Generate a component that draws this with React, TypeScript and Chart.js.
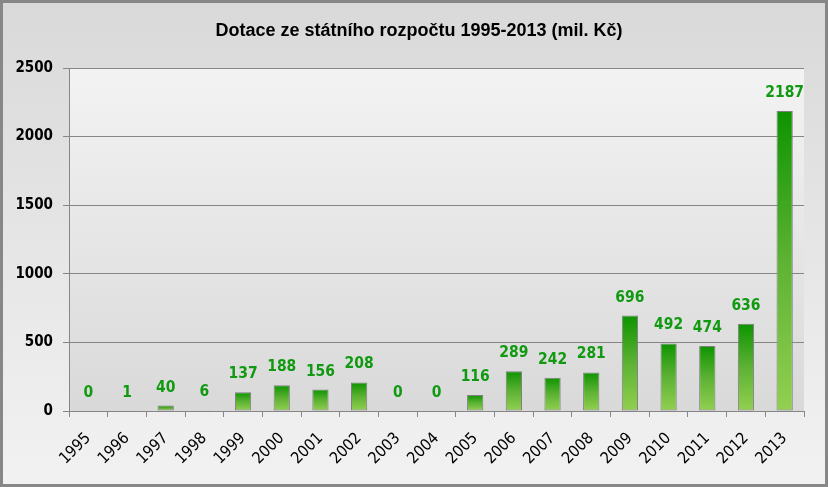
import React, { useEffect, useRef } from "react";
import { Chart, registerables } from "chart.js";

Chart.register(...registerables);

const TITLE = "Dotace ze státního rozpočtu 1995-2013 (mil. Kč)";
const categories = ["1995","1996","1997","1998","1999","2000","2001","2002","2003","2004","2005","2006","2007","2008","2009","2010","2011","2012","2013"];
const values = [0, 1, 40, 6, 137, 188, 156, 208, 0, 0, 116, 289, 242, 281, 696, 492, 474, 636, 2187];
const yMin = 0;
const yMax = 2500;
const yStep = 500;

const W = 828;
const H = 487;

const decorPlugin = {
  id: "decor",
  beforeDraw(chart: any) {
    const { ctx, chartArea } = chart;
    ctx.save();
    const g = ctx.createLinearGradient(0, 0, 0, H);
    g.addColorStop(0, "#d9d9d9");
    g.addColorStop(1, "#f2f2f2");
    ctx.fillStyle = g;
    ctx.fillRect(0, 0, W, H);
    const pg = ctx.createLinearGradient(0, chartArea.top, 0, chartArea.bottom);
    pg.addColorStop(0, "#f3f3f3");
    pg.addColorStop(1, "#d9d9d9");
    ctx.fillStyle = pg;
    ctx.fillRect(chartArea.left, chartArea.top, chartArea.right - chartArea.left, chartArea.bottom - chartArea.top);
    ctx.restore();
  },
  afterDatasetsDraw(chart: any) {
    const { ctx } = chart;
    const meta = chart.getDatasetMeta(0);
    ctx.save();
    ctx.font = "bold 15.5px 'DejaVu Sans Condensed', 'DejaVu Sans'";
    ctx.fillStyle = "#119a11";
    ctx.textAlign = "center";
    ctx.textBaseline = "alphabetic";
    meta.data.forEach((el: any, i: number) => {
      ctx.fillText(String(values[i]), el.x, el.y - 14);
    });
    ctx.restore();
  },
  afterDraw(chart: any) {
    const { ctx } = chart;
    ctx.save();
    ctx.font = "bold 18px 'Liberation Sans'";
    ctx.fillStyle = "#000";
    ctx.textAlign = "center";
    ctx.textBaseline = "middle";
    ctx.fillText(TITLE, 419, 31);
    ctx.strokeStyle = "#878787";
    ctx.lineWidth = 3;
    ctx.strokeRect(1.5, 1.5, W - 3, H - 3);
    ctx.restore();
  },
};

export default function App() {
  const ref = useRef<HTMLCanvasElement | null>(null);
  useEffect(() => {
    if (!ref.current) return;
    const chart = new Chart(ref.current, {
      type: "bar",
      data: {
        labels: categories,
        datasets: [
          {
            data: values,
            backgroundColor: (c: any) => {
              const ch = c.chart;
              const area = ch.chartArea;
              if (!area || c.dataIndex === undefined) return "#4caf30";
              const y = ch.scales.y;
              const top = y.getPixelForValue(values[c.dataIndex]);
              const bottom = y.getPixelForValue(0);
              if (bottom - top < 1) return "#92d050";
              const g = ch.ctx.createLinearGradient(0, top, 0, bottom);
              g.addColorStop(0, "#0e9400");
              g.addColorStop(0.5, "#5db234");
              g.addColorStop(1, "#92d050");
              return g;
            },
            borderColor: "#7f7f7f",
            borderWidth: 1,
            borderSkipped: false,
            categoryPercentage: 1,
            barPercentage: 0.42,
          },
        ],
      },
      options: {
        responsive: false,
        animation: false,
        layout: { padding: { top: 68, right: 24, left: 0, bottom: 0 } },
        plugins: {
          legend: { display: false },
          title: { display: false },
          tooltip: { enabled: false },
        },
        scales: {
          x: {
            offset: true,
            afterFit: (s: any) => { s.height = 76; },
            grid: {
              display: true,
              offset: true,
              drawOnChartArea: false,
              drawTicks: true,
              tickLength: 6,
              color: "#868686",
            },
            border: { display: true, color: "#868686", width: 1 },
            ticks: {
              minRotation: 45,
              maxRotation: 45,
              autoSkip: false,
              padding: 12,
              color: "#000",
              font: { family: "'DejaVu Sans Condensed', 'DejaVu Sans'", size: 16 },
            },
          },
          y: {
            min: yMin,
            max: yMax,
            afterFit: (s: any) => { s.width = 69; },
            grid: {
              color: "#868686",
              tickLength: 6,
              drawTicks: true,
            },
            border: { display: true, color: "#868686", width: 1 },
            ticks: {
              stepSize: yStep,
              padding: 10,
              color: "#000",
              callback: (v: any) => String(v),
              font: { family: "'DejaVu Sans Condensed', 'DejaVu Sans'", size: 15, weight: "bold" },
            },
          },
        },
      },
      plugins: [decorPlugin],
    });
    return () => chart.destroy();
  }, []);
  return (
    <div style={{ position: "absolute", left: 0, top: 0, width: W, height: H }}>
      <canvas ref={ref} width={W} height={H} style={{ width: W, height: H, display: "block" }} />
    </div>
  );
}
